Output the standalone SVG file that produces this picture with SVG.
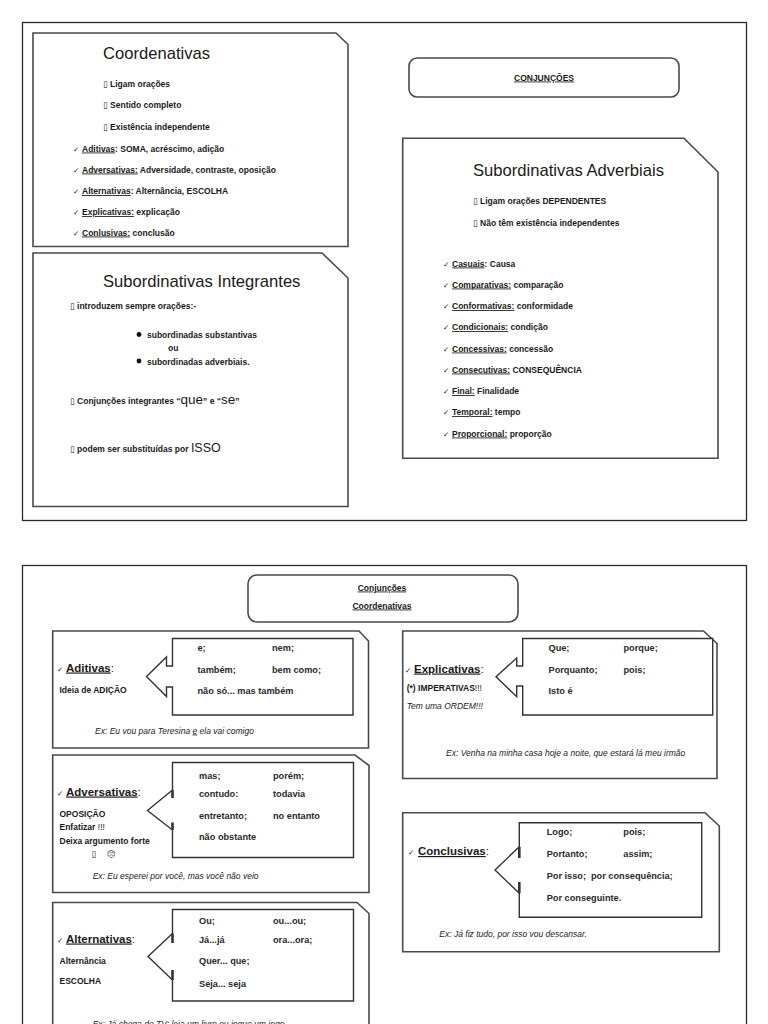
<svg xmlns="http://www.w3.org/2000/svg" width="768" height="1024" viewBox="0 0 768 1024">
<style>
.frame{fill:none;stroke:#2b2b2b;stroke-width:1.3}
.box{fill:#fff;stroke:#4a4a4a;stroke-width:1.6}
.call{fill:#fff;stroke:#333;stroke-width:1.4}
.thick{stroke:#333;stroke-width:2.6}
.t{font-family:"Liberation Sans",Arial,sans-serif;fill:#1a1a1a}
.title{font-size:16.6px}
.s{font-size:8.5px;font-weight:bold}
.c{font-size:9.2px;font-weight:bold;fill:#2a2a2a}
.lbl{font-size:11.5px;font-weight:bold}
.ex{font-size:8.5px;font-style:italic;fill:#222}
.n{font-weight:normal}
.u{text-decoration:underline}
.sym{font-family:"DejaVu Sans",sans-serif;font-weight:normal}
.chk{font-family:"DejaVu Sans",sans-serif;font-size:7.5px;fill:#222}
</style>
<rect width="768" height="1024" fill="#fff"/>
<rect class="frame" x="22.5" y="22.5" width="724" height="498"/>
<rect class="frame" x="22.5" y="565.5" width="724" height="470"/>
<g id="connectors"/>

<g id="coordenativas">
<path class="box" d="M33,33 H336 L348,44.5 V246.5 H33 Z"/>
<text class="t title" x="103" y="59">Coordenativas</text>
<text class="t s" x="103" y="86.5"><tspan class="sym">▯</tspan> Ligam orações</text>
<text class="t s" x="103" y="108"><tspan class="sym">▯</tspan> Sentido completo</text>
<text class="t s" x="103" y="129.5"><tspan class="sym">▯</tspan> Existência independente</text>
<text class="chk" x="73" y="151.5">✓</text>
<text class="t s" x="82" y="151.5"><tspan class="u">Aditivas</tspan>: SOMA, acréscimo, adição</text>
<text class="chk" x="73" y="172.5">✓</text>
<text class="t s" x="82" y="172.5"><tspan class="u">Adversativas:</tspan> Adversidade, contraste, oposição</text>
<text class="chk" x="73" y="194">✓</text>
<text class="t s" x="82" y="194"><tspan class="u">Alternativas</tspan>: Alternância, ESCOLHA</text>
<text class="chk" x="73" y="215">✓</text>
<text class="t s" x="82" y="215"><tspan class="u">Explicativas:</tspan> explicação</text>
<text class="chk" x="73" y="235.5">✓</text>
<text class="t s" x="82" y="235.5"><tspan class="u">Conlusivas:</tspan> conclusão</text>
</g>

<g id="integrantes">
<path class="box" d="M33,253 H322 L348,278 V506.5 H33 Z"/>
<text class="t title" x="103" y="286.5">Subordinativas Integrantes</text>
<text class="t s" x="70" y="309"><tspan class="sym">▯</tspan> introduzem sempre orações:-</text>
<circle cx="139" cy="334.5" r="2.4" fill="#111"/>
<text class="t s" x="147" y="337.5">subordinadas substantivas</text>
<text class="t s" x="168" y="351">ou</text>
<circle cx="139" cy="361" r="2.4" fill="#111"/>
<text class="t s" x="147" y="364.5">subordinadas adverbiais.</text>
<text class="t s" x="70" y="404"><tspan class="sym">▯</tspan> Conjunções integrantes “<tspan class="n" font-size="13.5">que</tspan>” e “<tspan class="n" font-size="13.5">se</tspan>”</text>
<text class="t s" x="70" y="451.5"><tspan class="sym">▯</tspan> podem ser substituídas por <tspan class="n" font-size="12.5">ISSO</tspan></text>
</g>

<g id="conjuncoes">
<rect class="box" x="409" y="58" width="270" height="39" rx="8"/>
<text class="t s u" x="544" y="80.5" text-anchor="middle" font-size="8">CONJUNÇÕES</text>
</g>

<g id="adverbiais">
<path class="box" d="M402.7,138.3 H684 L718,172 V458.3 H402.7 Z"/>
<text class="t title" x="473" y="176">Subordinativas Adverbiais</text>
<text class="t s" x="473" y="204"><tspan class="sym">▯</tspan> Ligam orações DEPENDENTES</text>
<text class="t s" x="473" y="225.5"><tspan class="sym">▯</tspan> Não têm existência independentes</text>
<text class="chk" x="443" y="266.5">✓</text>
<text class="t s" x="452" y="266.5"><tspan class="u">Casuais</tspan>: Causa</text>
<text class="chk" x="443" y="287.5">✓</text>
<text class="t s" x="452" y="287.5"><tspan class="u">Comparativas:</tspan> comparação</text>
<text class="chk" x="443" y="309">✓</text>
<text class="t s" x="452" y="309"><tspan class="u">Conformativas:</tspan> conformidade</text>
<text class="chk" x="443" y="330">✓</text>
<text class="t s" x="452" y="330"><tspan class="u">Condicionais:</tspan> condição</text>
<text class="chk" x="443" y="351.5">✓</text>
<text class="t s" x="452" y="351.5"><tspan class="u">Concessivas:</tspan> concessão</text>
<text class="chk" x="443" y="372.5">✓</text>
<text class="t s" x="452" y="372.5"><tspan class="u">Consecutivas:</tspan> CONSEQUÊNCIA</text>
<text class="chk" x="443" y="394">✓</text>
<text class="t s" x="452" y="394"><tspan class="u">Final:</tspan> Finalidade</text>
<text class="chk" x="443" y="415">✓</text>
<text class="t s" x="452" y="415"><tspan class="u">Temporal:</tspan> tempo</text>
<text class="chk" x="443" y="436.5">✓</text>
<text class="t s" x="452" y="436.5"><tspan class="u">Proporcional:</tspan> proporção</text>
</g>

<g id="conj-coord">
<rect class="box" x="248" y="575" width="270" height="47" rx="9"/>
<text class="t s u" x="382" y="590.5" text-anchor="middle" font-size="8">Conjunções</text>
<text class="t s u" x="382" y="608.5" text-anchor="middle" font-size="8">Coordenativas</text>
</g>

<g id="aditivas">
<path class="box" d="M52.7,631 H359 L368.5,641 V748 H52.7 Z"/>
<path class="call" d="M172.5,638.5 V666 H166.5 V657 L146.5,676.5 L166.5,696.5 V687 H172.5 V715 H353 V638.5 Z"/>
<text class="chk" x="57" y="671.5">✓</text>
<text class="t lbl" x="66" y="671.5"><tspan class="u">Aditivas</tspan><tspan class="n">:</tspan></text>
<text class="t s" x="59.5" y="692.5" font-size="8.2">Ideia de ADIÇÃO</text>
<text class="t c" x="197.5" y="650.5">e;</text>
<text class="t c" x="272" y="650.5">nem;</text>
<text class="t c" x="197.5" y="672.5">também;</text>
<text class="t c" x="272" y="672.5">bem como;</text>
<text class="t c" x="197.5" y="693.5">não só... mas também</text>
<text class="t ex" x="95" y="733.5">Ex: Eu vou para Teresina <tspan class="u">e</tspan> ela vai comigo</text>
</g>

<g id="adversativas">
<path class="box" d="M52.7,755 H355 L369,765.5 V892.5 H52.7 Z"/>
<path class="call" d="M172.5,762.5 V790 L147.5,810.5 L172.5,830 V857.5 H353.5 V762.5 Z"/>
<path class="thick" d="M172.5,790 V798 M172.5,822.5 V830"/>
<text class="chk" x="57" y="795.5">✓</text>
<text class="t lbl" x="66" y="795.5"><tspan class="u">Adversativas</tspan><tspan class="n">:</tspan></text>
<text class="t s" x="59.5" y="816.5" font-size="8">OPOSIÇÃO</text>
<text class="t s" x="59.5" y="830" font-size="8">Enfatizar <tspan class="n">!!!</tspan></text>
<text class="t s" x="59.5" y="843.5" font-size="8">Deixa argumento forte</text>
<text class="t s" x="91.5" y="856.5" font-size="8"><tspan class="sym">▯</tspan></text>
<text class="t s" x="107" y="856.5" font-size="8"><tspan class="sym">☹</tspan></text>
<text class="t c" x="199" y="778.5">mas;</text>
<text class="t c" x="273" y="778.5">porém;</text>
<text class="t c" x="199" y="797">contudo:</text>
<text class="t c" x="273" y="797">todavia</text>
<text class="t c" x="199" y="818.5">entretanto;</text>
<text class="t c" x="273" y="818.5">no entanto</text>
<text class="t c" x="199" y="840">não obstante</text>
<text class="t ex" x="92.7" y="878.5">Ex: Eu esperei por você, mas você não veio</text>
</g>

<g id="alternativas">
<path class="box" d="M52.7,902.5 H357 L369,913.5 V1035 H52.7 Z"/>
<path class="call" d="M172.5,909.5 V933.5 L148,956.5 L172.5,980 V1001 H353.5 V909.5 Z"/>
<path class="thick" d="M172.5,933.5 V943 M172.5,970 V980"/>
<text class="chk" x="57" y="942.5">✓</text>
<text class="t lbl" x="66" y="942.5"><tspan class="u">Alternativas</tspan><tspan class="n">:</tspan></text>
<text class="t s" x="59.5" y="963.5" font-size="8">Alternância</text>
<text class="t s" x="59.5" y="983.5" font-size="8">ESCOLHA</text>
<text class="t c" x="199" y="923.5">Ou;</text>
<text class="t c" x="273" y="923.5">ou...ou;</text>
<text class="t c" x="199" y="942.5">Já...já</text>
<text class="t c" x="273" y="942.5">ora...ora;</text>
<text class="t c" x="199" y="963.5">Quer... que;</text>
<text class="t c" x="199" y="986.5">Seja... seja</text>
<text class="t ex" x="92.7" y="1027">Ex: Já chega de TV; leia um livro ou jogue um jogo.</text>
</g>

<g id="explicativas">
<path class="box" d="M402.7,631 H703.5 L717,643.5 V778.5 H402.7 Z"/>
<path class="call" d="M522.7,638.5 V666 H516.7 V658 L496,676.7 L516.7,696.7 V686 H522.7 V715 H712.7 V638.5 Z"/>
<text class="chk" x="405" y="672.5">✓</text>
<text class="t lbl" x="414" y="672.5"><tspan class="u">Explicativas</tspan><tspan class="n">:</tspan></text>
<text class="t s" x="406.7" y="690.5" font-size="8">(*) IMPERATIVAS<tspan class="n">!!!</tspan></text>
<text class="t ex" x="406.7" y="708.5" font-size="8">Tem uma ORDEM!!!</text>
<text class="t c" x="548.5" y="650.5">Que;</text>
<text class="t c" x="623.5" y="650.5">porque;</text>
<text class="t c" x="548.5" y="672.5">Porquanto;</text>
<text class="t c" x="623.5" y="672.5">pois;</text>
<text class="t c" x="548.5" y="693.5">Isto é</text>
<text class="t ex" x="446" y="756">Ex: Venha na minha casa hoje a noite, que estará lá meu irmão</text>
</g>

<g id="conclusivas">
<path class="box" d="M402.7,812.7 H705 L719.3,826 V951.7 H402.7 Z"/>
<path class="call" d="M519.3,822.7 V846.7 L495,870 L519.3,893.3 V917.3 H701.7 V822.7 Z"/>
<path class="thick" d="M519.3,846.7 V858 M519.3,882 V893.3"/>
<text class="chk" x="408" y="855">✓</text>
<text class="t lbl" x="418" y="855"><tspan class="u">Conclusivas</tspan><tspan class="n">:</tspan></text>
<text class="t c" x="546.7" y="835">Logo;</text>
<text class="t c" x="623.3" y="835">pois;</text>
<text class="t c" x="546.7" y="856.7">Portanto;</text>
<text class="t c" x="623.3" y="856.7">assim;</text>
<text class="t c" x="546.7" y="879.3">Por isso;</text>
<text class="t c" x="591" y="879.3">por consequência;</text>
<text class="t c" x="546.7" y="901">Por conseguinte.</text>
<text class="t ex" x="439.3" y="937.3">Ex: Já fiz tudo, por isso vou descansar.</text>
</g>
</svg>
